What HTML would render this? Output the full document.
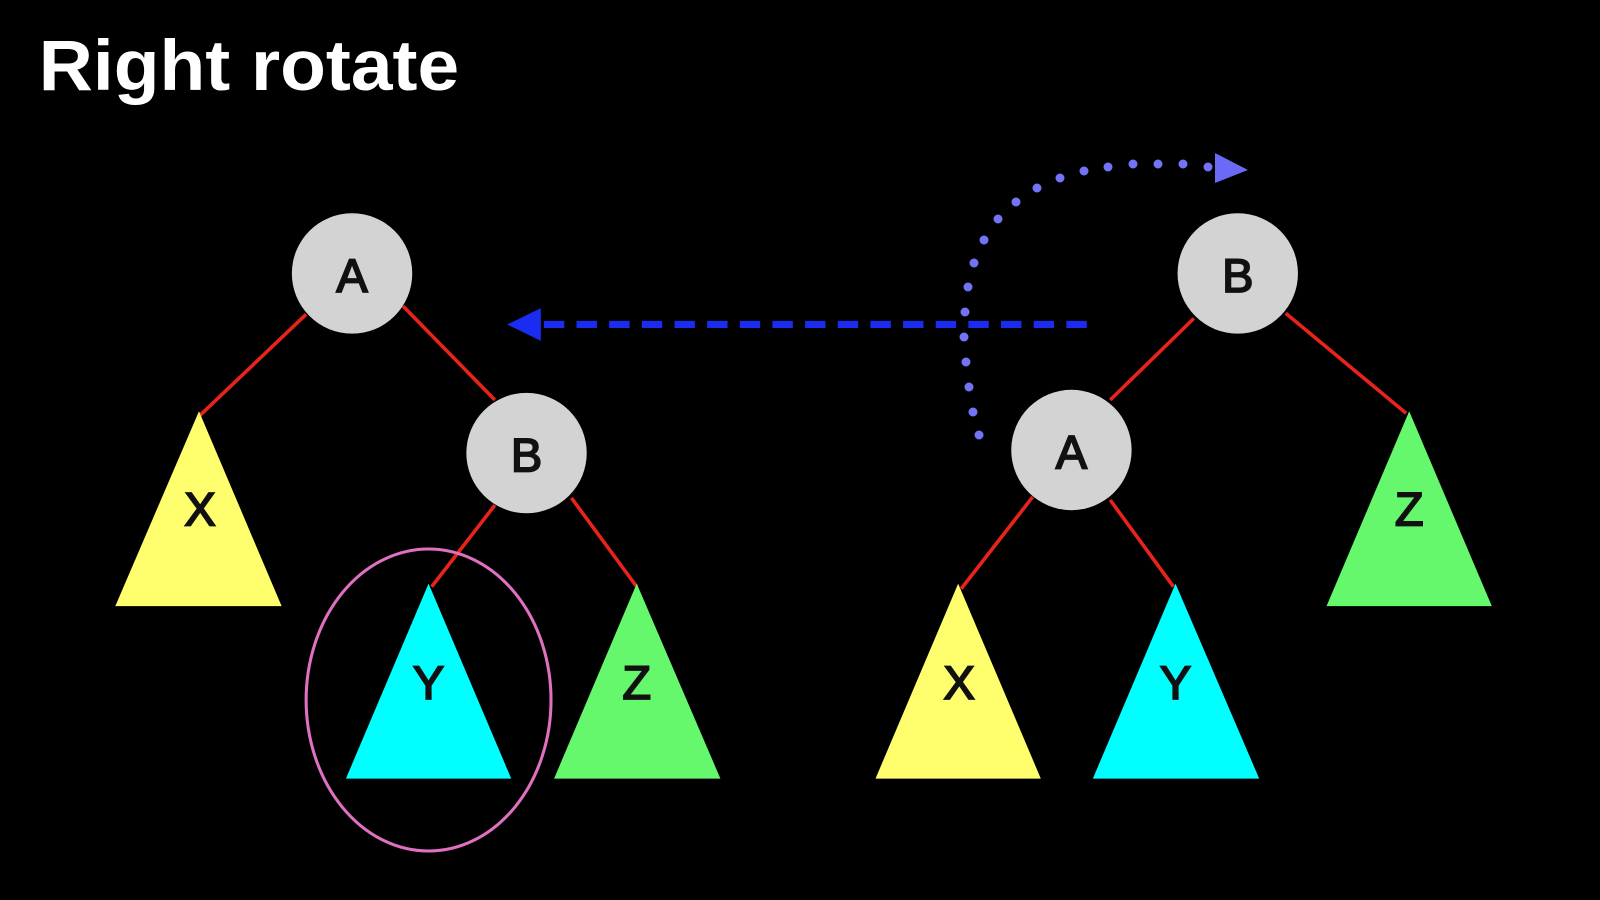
<!DOCTYPE html>
<html><head><style>
html,body{margin:0;padding:0;background:#000;}
svg{display:block;}
</style></head><body>
<svg width="1600" height="900" viewBox="0 0 1568 882" preserveAspectRatio="none" xmlns="http://www.w3.org/2000/svg">
<rect width="1568" height="882" fill="#000"/>
<text x="38" y="88" font-family="Liberation Sans, sans-serif" font-weight="bold" font-size="70" fill="#fff" textLength="412" lengthAdjust="spacingAndGlyphs">Right rotate</text>
<g stroke="#e8241a" stroke-width="3.5">
<line x1="300" y1="308" x2="195" y2="408"/>
<line x1="395" y1="300" x2="485" y2="392"/>
<line x1="485" y1="495" x2="423" y2="575"/>
<line x1="560" y1="488" x2="624" y2="575"/>
<line x1="1170" y1="312" x2="1088" y2="392"/>
<line x1="1260" y1="307" x2="1378" y2="405"/>
<line x1="1012" y1="487" x2="942" y2="577"/>
<line x1="1088" y1="490" x2="1150" y2="575"/>
</g>
<polygon points="195,403 113,594 276,594" fill="#ffff6e"/>
<polygon points="420,572 339,763 501,763" fill="#00ffff"/>
<polygon points="624,572 543,763 706,763" fill="#66f86c"/>
<polygon points="1381,403 1300,594 1462,594" fill="#66f86c"/>
<polygon points="939,572 858,763 1020,763" fill="#ffff6e"/>
<polygon points="1152,572 1071,763 1234,763" fill="#00ffff"/>
<g fill="#d3d3d3">
<circle cx="345" cy="268" r="59"/>
<circle cx="516" cy="444" r="59"/>
<circle cx="1213" cy="268" r="59"/>
<circle cx="1050" cy="441" r="59"/>
</g>
<g font-family="Liberation Sans, sans-serif" font-size="46" fill="#111" text-anchor="middle" stroke="#111" stroke-width="1.8">
<text x="345" y="286">A</text>
<text x="516" y="462">B</text>
<text x="1213" y="286">B</text>
<text x="1050" y="459">A</text>
<text x="196" y="515">X</text>
<text x="420" y="685">Y</text>
<text x="624" y="685">Z</text>
<text x="1381" y="515">Z</text>
<text x="940" y="685">X</text>
<text x="1152" y="685">Y</text>
</g>
<ellipse cx="420" cy="686" rx="120" ry="148" fill="none" stroke="#e070c0" stroke-width="3"/>
<line x1="1065" y1="318" x2="528" y2="318" stroke="#1a2cf0" stroke-width="7" stroke-dasharray="20 12"/>
<polygon points="497,318 530,302 530,334" fill="#1a2cf0"/>
<g transform="scale(0.98)" fill="#7373f5">
<circle cx="979" cy="435" r="4.5"/><circle cx="973" cy="412" r="4.5"/><circle cx="969" cy="387" r="4.5"/>
<circle cx="966" cy="362" r="4.5"/><circle cx="964" cy="337" r="4.5"/><circle cx="965" cy="312" r="4.5"/>
<circle cx="968" cy="287" r="4.5"/><circle cx="974" cy="263" r="4.5"/><circle cx="984" cy="240" r="4.5"/>
<circle cx="998" cy="219" r="4.5"/><circle cx="1016" cy="202" r="4.5"/><circle cx="1037" cy="188" r="4.5"/>
<circle cx="1060" cy="178" r="4.5"/><circle cx="1084" cy="171" r="4.5"/><circle cx="1108" cy="167" r="4.5"/>
<circle cx="1133" cy="164" r="4.5"/><circle cx="1158" cy="164" r="4.5"/><circle cx="1183" cy="164" r="4.5"/>
<circle cx="1208" cy="167" r="4.5"/>
<polygon points="1215,153 1248,170 1215,183" fill="#6a6af5"/>
</g>
</svg>
</body></html>
